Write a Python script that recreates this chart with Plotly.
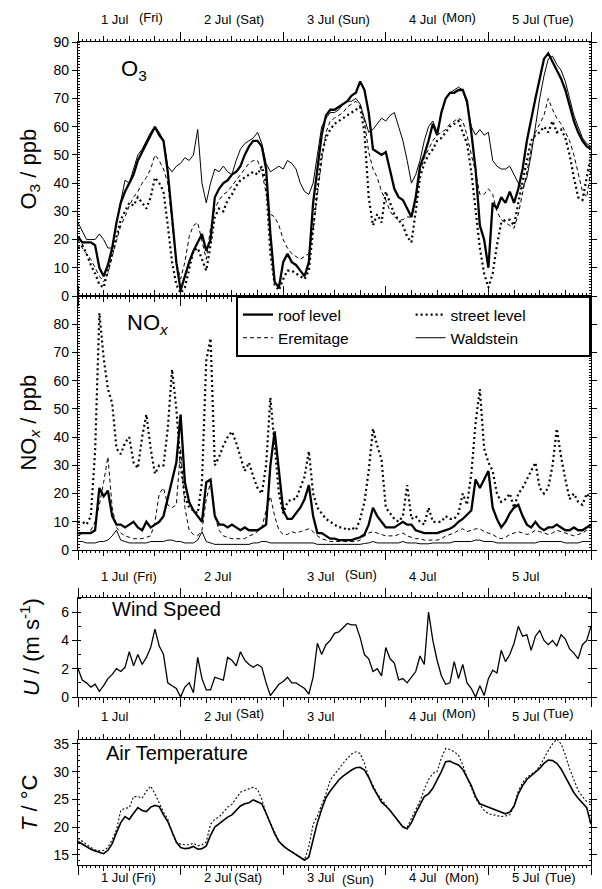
import plotly.graph_objects as go

# ---------------- data (hours since 1 Jul 00:00, hourly) ----------------
HOURS = list(range(121))
DAY_LABELS = ["1 Jul", "2 Jul", "3 Jul", "4 Jul", "5 Jul"]

O3_ROOF = [21, 19, 19, 19, 18, 10, 7, 11, 17, 26, 33, 37,
           40, 43, 48, 51, 54, 57, 60, 57, 55, 44, 28, 12,
           2, 7, 12, 16, 19, 22, 16, 20, 35, 38, 40, 41,
           43, 44, 46, 50, 53, 55, 55, 53, 45, 22, 5, 3,
           12, 15, 12, 11, 9, 7, 12, 33, 45, 57, 64, 66,
           66, 67, 68, 69, 71, 72, 76, 73, 65, 52, 51, 50,
           51, 45, 38, 35, 34, 31, 28, 35, 46, 50, 55, 61,
           57, 65, 70, 72, 72, 73, 73, 69, 58, 45, 25, 20,
           10, 33, 31, 35, 33, 37, 33, 38, 45, 55, 63, 70,
           77, 84, 86, 83, 80, 77, 73, 67, 62, 58, 55, 53,
           52]
O3_STREET = [17, 18, 15, 11, 8, 4, 3, 9, 15, 21, 27, 30,
             33, 32, 35, 33, 31, 35, 42, 40, 37, 25, 12, 4,
             1, 3, 9, 16, 17, 13, 9, 18, 28, 31, 30, 34,
             36, 39, 41, 42, 43, 44, 43, 46, 40, 15, 4, 2,
             6, 9, 9, 8, 7, 6, 9, 24, 38, 50, 56, 59,
             61, 62, 63, 64, 65, 66, 67, 58, 35, 25, 29, 26,
             37, 33, 29, 27, 25, 21, 19, 30, 42, 47, 50, 52,
             55, 56, 58, 60, 61, 62, 58, 54, 44, 30, 17, 8,
             3, 8, 18, 26, 27, 27, 25, 33, 41, 48, 55, 57,
             58, 60, 58, 62, 58, 59, 56, 50, 42, 35, 34, 42,
             50]
O3_EREMITAGE = [20, 17, 15, 13, 10, 7, 5, 8, 14, 20, 25, 28,
                32, 35, 37, 40, 42, 45, 50, 48, 45, 40, 25, 12,
                6, 12, 21, 25, 26, 19, 13, 24, 31, 34, 36, 37,
                39, 41, 43, 45, 47, 48, 48, 44, 36, 29, 28, 25,
                20, 17, 15, 14, 13, 14, 15, 24, 37, 48, 58, 62,
                63, 64, 65, 67, 68, 69, 67, 62, 51, 45, 42, 37,
                34, 30, 28, 27, 27, 28, 28, 34, 44, 49, 52, 55,
                57, 58, 59, 61, 62, 63, 62, 57, 50, 44, 36, 36,
                38, 36, 30, 27, 26, 25, 24, 29, 36, 44, 52, 58,
                61, 64, 70, 66, 63, 61, 58, 55, 50, 44, 37, 35,
                45]
O3_WALDSTEIN = [26, 23, 20, 20, 20, 22, 20, 17, 17, 26, 34, 41,
                40, 45, 50, 52, 55, 58, 60, 58, 55, 46, 44, 46,
                47, 49, 48, 50, 59, 40, 33, 40, 45, 44, 46, 44,
                43, 48, 52, 54, 55, 56, 58, 54, 47, 44, 45, 46,
                45, 48, 47, 45, 40, 37, 36, 40, 50, 60, 63, 65,
                65, 66, 68, 69, 69, 70, 68, 63, 58, 59, 61, 63,
                62, 64, 65, 60, 55, 48, 40, 43, 48, 55, 60, 62,
                58, 65, 70, 72, 73, 74, 73, 68, 60, 57, 59, 57,
                58, 48, 46, 45, 45, 46, 43, 40, 38, 42, 50, 60,
                70, 78, 84, 85, 82, 80, 76, 70, 64, 60, 56, 54,
                53]

NOX_ROOF = [6, 6, 6, 6, 7, 22, 19, 21, 12, 9, 9, 8,
            9, 10, 8, 7, 10, 8, 9, 10, 12, 18, 24, 31,
            48, 24, 17, 14, 12, 10, 24, 25, 12, 9, 9, 8,
            9, 8, 7, 8, 7, 7, 7, 8, 9, 30, 42, 28,
            14, 11, 11, 13, 15, 18, 23, 12, 6, 6, 5, 4,
            4, 3.5, 3.5, 3.5, 3.5, 4, 4.5, 5.5, 9, 15, 12, 10,
            8, 8, 8, 9, 10, 9, 9, 7, 6.5, 6, 6, 6,
            6, 6.5, 7, 7.5, 8.5, 10, 11, 12.5, 14, 25, 22, 25,
            28, 15, 11, 8, 10, 13, 15, 16, 12, 9, 8, 10,
            8, 7, 8, 8, 9, 8, 7, 7, 8, 7, 7, 8,
            9]
NOX_STREET = [10, 10, 9, 12, 35, 84, 68, 57, 52, 36, 34, 38,
              40, 31, 29, 40, 48, 36, 27, 30, 30, 43, 64, 50,
              30, 19, 15, 14, 13, 24, 67, 75, 30, 33, 37, 40,
              42, 38, 33, 28, 31, 26, 22, 20, 30, 54, 37, 20,
              13, 17, 18, 18, 22, 26, 35, 20, 15, 13, 11, 10,
              9, 8, 8, 7, 8, 7, 11, 17, 28, 43, 37, 32,
              15, 13, 11, 10, 12, 23, 11, 12, 10, 9, 15, 10,
              10, 10, 12, 11, 11, 13, 20, 16, 27, 45, 57, 36,
              31, 28, 20, 17, 18, 20, 15, 20, 22, 25, 28, 31,
              22, 20, 22, 30, 43, 33, 25, 18, 20, 17, 16, 20,
              18]
NOX_EREMITAGE = [5, 6, 6, 7, 10, 16, 24, 33, 15, 8, 6, 5,
                 4.5, 4, 4, 4, 4.5, 5, 10, 20, 22, 16, 15, 16,
                 36, 15, 7, 5.5, 5, 7, 18, 24, 12, 7, 5, 4.5,
                 4, 4, 4, 4, 5, 5.5, 6.5, 8, 14, 19, 12, 7,
                 5.5, 5.5, 6.5, 6, 6.5, 7, 7.5, 6.5, 5, 4, 3.5, 3,
                 3, 3, 3, 3, 3, 3, 3.5, 5, 6, 6.5, 6, 5.5,
                 5, 5, 5, 5.5, 6, 5, 4.5, 4, 4, 3.5, 3.5, 3.5,
                 3.5, 4, 5, 5.5, 6, 7, 7.5, 6.5, 7, 7.5, 7.5, 6.5,
                 6, 5.5, 4.5, 4, 4.5, 5.5, 6, 6.5, 6, 5.5, 6, 7,
                 6.5, 6, 5.5, 6, 7, 6.5, 6, 5.5, 5, 5.5, 6, 7,
                 8]
NOX_WALDSTEIN = [3, 3, 2.5, 2.5, 2.5, 3, 3, 3.5, 5, 7, 3.5, 3,
                 2.5, 2.5, 2.5, 2.5, 2.5, 3, 3, 3, 3, 3.5, 3.5, 3,
                 3, 2.5, 2.5, 2.5, 3.5, 6.5, 3, 2.5, 2, 2, 2, 2,
                 1.8, 1.8, 2, 2, 2, 2.5, 2.5, 3, 3, 2.5, 2.5, 2.5,
                 2.5, 2.5, 2.5, 2.5, 2.5, 2.5, 2.5, 2.5, 2, 2, 2, 1.8,
                 1.8, 1.8, 1.8, 2, 2, 2, 2, 2.3, 2.5, 3, 2.5, 2.5,
                 2.5, 2.5, 2.5, 2.5, 3, 2.5, 2.5, 2.5, 2.2, 2.2, 2.2, 2.5,
                 2.5, 2.5, 2.5, 2.5, 3, 3, 3, 3, 3, 3.5, 3.5, 3,
                 3, 3, 2.5, 2.5, 2.5, 2.5, 2.5, 2.5, 2.5, 2.5, 2.5, 2.5,
                 3, 3, 3, 3, 3, 3, 2.5, 2.5, 2.5, 2.5, 3, 3,
                 3]

WIND = [2.0, 1.2, 1.0, 0.7, 0.9, 0.4, 0.8, 1.3, 1.6, 2.0, 1.8, 2.1,
        3.2, 2.2, 3.0, 2.3, 2.8, 3.5, 4.8, 3.6, 3.0, 1.0, 0.8, 0.6,
        0.0, 0.7, 1.0, 0.3, 2.8, 1.3, 0.5, 0.5, 1.4, 1.3, 1.2, 2.8,
        2.6, 2.2, 3.2, 2.6, 2.3, 2.1, 2.3, 2.1, 1.0, 0.1, 0.5, 0.9,
        1.1, 1.4, 1.0, 1.0, 0.8, 0.6, 0.2, 1.4, 3.8, 3.0, 3.7, 4.0,
        4.5, 4.6, 4.9, 5.2, 5.1, 5.1, 4.2, 3.0, 2.7, 1.8, 2.0, 1.5,
        3.5, 2.7, 2.4, 1.2, 1.3, 1.0, 1.4, 1.8, 2.9, 2.3, 6.0, 4.0,
        2.6, 1.5, 0.9, 1.0, 2.5, 1.3, 2.3, 1.0, 0.6, 0.0, 0.8, 0.1,
        1.3, 1.9, 1.7, 3.3, 2.5, 3.0, 3.8, 5.0, 4.3, 4.4, 3.3, 4.3,
        4.7, 4.0, 3.7, 4.0, 3.6, 4.4, 4.1, 3.4, 3.1, 2.7, 3.7, 4.0,
        5.0]

T_ROOF = [17.4, 16.9, 16.5, 16.0, 15.7, 15.5, 15.2, 15.8, 17.0, 19.0, 20.8, 21.9,
          21.4, 22.5, 23.5, 23.0, 22.8, 23.6, 23.9, 23.7, 22.2, 21.0, 19.2, 17.3,
          16.3, 16.1, 16.2, 16.5, 16.0, 16.1, 16.6, 18.5, 20.0, 20.6, 21.2, 21.8,
          22.2, 23.0, 23.8, 24.2, 24.4, 24.9, 24.6, 24.2, 22.5, 20.5, 18.8, 17.4,
          16.6, 16.0, 15.5, 15.0, 14.6, 14.0, 14.6, 18.0, 20.8, 23.2, 25.3, 26.5,
          27.5, 28.5, 29.2, 29.8, 30.3, 30.7, 30.8, 30.3, 29.0, 27.2, 25.8, 24.5,
          23.8, 23.0, 22.0, 21.0, 20.0, 19.7, 20.8, 22.5, 24.0, 25.5, 26.0, 27.0,
          28.5, 30.0, 31.8, 31.9, 31.5, 31.2, 30.4, 29.0, 27.5, 25.5, 24.2, 23.9,
          23.6, 23.2, 22.9, 22.6, 22.4, 22.7, 23.8, 26.0, 27.5, 28.6, 29.3, 29.9,
          30.6, 31.5, 32.1, 32.0, 31.5, 30.5, 29.0, 27.5, 26.2, 25.2, 24.4, 23.5,
          20.5]
T_STREET = [18.0, 17.4, 16.8, 16.3, 15.9, 15.7, 15.8, 16.3, 17.7, 19.5, 23.0, 23.4,
            23.5, 25.5, 25.5, 25.2, 26.5, 27.4, 26.0, 24.2, 22.7, 21.4, 19.0, 17.2,
            16.9, 16.8, 16.8, 17.1, 16.6, 16.8, 17.3, 20.5, 21.4, 21.8, 22.8, 23.6,
            24.1, 25.3, 26.3, 26.6, 26.9, 27.2, 26.8, 25.0, 22.5, 20.8, 18.8, 17.4,
            16.7, 16.0, 15.6, 15.1, 14.7, 14.1, 16.5, 20.5, 22.0, 24.0, 26.0, 28.5,
            29.5, 30.7, 31.5, 32.4, 33.2, 33.6, 33.3, 31.5, 29.0, 27.5, 26.0, 25.0,
            24.0, 23.0, 22.0, 21.0, 20.0, 20.0, 21.5, 23.2, 24.7, 26.8, 28.6, 29.7,
            30.0, 32.5, 34.2, 34.0, 33.6, 33.0, 31.2, 29.0, 27.0, 25.2, 24.0, 23.0,
            22.4, 22.2, 22.0, 21.9, 22.0, 22.2, 23.8, 26.5, 28.0, 29.0, 29.5, 30.0,
            31.0, 32.5, 33.8, 35.0, 35.9, 35.0, 33.0, 30.5, 28.5, 26.6, 25.5, 24.6,
            24.5]

# ---------------- layout geometry ----------------
FONT = "Liberation Sans, Arial, Helvetica, sans-serif"
W, H = 602, 889
ML, MR, MT, MB = 78, 5, 42, 24
PH = H - MT - MB
PW = W - ML - MR


def yp(px):
    return 1 - (px - MT) / PH


def xp(px):
    return (px - ML) / PW


DOM_O3 = [yp(296), 1.0]
DOM_NOX = [yp(550), yp(296)]
DOM_U = [yp(697), yp(598)]
DOM_T = [0.0, yp(740)]

fig = go.Figure()

STY = {
    "roof level": dict(color="black", width=2.3),
    "street level": dict(color="black", width=2.2, dash="2px,3px"),
    "Eremitage": dict(color="black", width=1, dash="4px,3px"),
    "Waldstein": dict(color="black", width=1),
}
RANK = {"roof level": 1, "street level": 2, "Eremitage": 3, "Waldstein": 4}

o3 = {"Waldstein": O3_WALDSTEIN, "Eremitage": O3_EREMITAGE,
      "street level": O3_STREET, "roof level": O3_ROOF}
nox = {"Waldstein": NOX_WALDSTEIN, "Eremitage": NOX_EREMITAGE,
       "street level": NOX_STREET, "roof level": NOX_ROOF}

for name, vals in o3.items():
    fig.add_trace(go.Scatter(x=HOURS, y=vals, mode="lines", name=name,
                             line=STY[name], legendrank=RANK[name],
                             xaxis="x", yaxis="y", hoverinfo="skip"))
for name, vals in nox.items():
    fig.add_trace(go.Scatter(x=HOURS, y=vals, mode="lines", name=name,
                             line=STY[name], showlegend=False,
                             xaxis="x2", yaxis="y2", hoverinfo="skip"))

fig.add_trace(go.Scatter(x=HOURS, y=WIND, mode="lines", showlegend=False,
                         line=dict(color="black", width=1.3),
                         xaxis="x3", yaxis="y3", hoverinfo="skip"))
fig.add_trace(go.Scatter(x=HOURS, y=T_STREET, mode="lines", showlegend=False,
                         line=dict(color="black", width=1.1, dash="2px,2px"),
                         xaxis="x4", yaxis="y4", hoverinfo="skip"))
fig.add_trace(go.Scatter(x=HOURS, y=T_ROOF, mode="lines", showlegend=False,
                         line=dict(color="black", width=1.6),
                         xaxis="x4", yaxis="y4", hoverinfo="skip"))

DAYS = list(range(0, 121, 24))
SIXH = list(range(0, 121, 6))

# empty traces so the day-tick overlay axes get drawn
for k, ya in zip((5, 6, 7, 8), ("y", "y2", "y3", "y4")):
    fig.add_trace(go.Scatter(x=[], y=[], mode="lines", showlegend=False,
                             xaxis="x%d" % k, yaxis=ya, hoverinfo="skip"))


def xaxis(anchor, match=None):
    d = dict(range=[0, 120], anchor=anchor, showline=True, linecolor="black",
             linewidth=1.4, mirror="ticks", ticks="outside", tickvals=SIXH,
             ticklen=4.5, tickwidth=1.1, tickcolor="black", showticklabels=False,
             showgrid=False, zeroline=False,
             minor=dict(tick0=0, dtick=1, ticks="outside", ticklen=2,
                        tickwidth=0.8, tickcolor="black", showgrid=False))
    if match:
        d["matches"] = match
    return d


def dayaxis(over, anchor):
    return dict(range=[0, 120], overlaying=over, anchor=anchor, showline=False,
                mirror="ticks", ticks="outside", tickvals=DAYS, ticklen=9,
                tickwidth=1.3, tickcolor="black", showticklabels=False,
                showgrid=False, zeroline=False)


def yaxis(domain, rng, tickvals, mdt, mlen=2):
    return dict(domain=domain, range=rng, showline=True, linecolor="black",
                linewidth=1.4, mirror="ticks", ticks="outside", tickvals=tickvals,
                ticklen=5, tickwidth=1.2, tickcolor="black", showgrid=False,
                zeroline=False, tickfont=dict(size=14, color="black", family=FONT),
                minor=dict(tick0=0, dtick=mdt, ticks="inside", ticklen=mlen,
                           tickwidth=1, tickcolor="black", showgrid=False))


annotations = []

# panel labels
annotations += [
    dict(x=9.5, y=80, xref="x", yref="y", text="O<sub>3</sub>", showarrow=False,
         xanchor="left", yanchor="middle", font=dict(size=22)),
    dict(x=11.0, y=80, xref="x2", yref="y2", text="NO<sub><i>x</i></sub>",
         showarrow=False, xanchor="left", yanchor="middle", font=dict(size=22)),
    dict(x=7.5, y=6.2, xref="x3", yref="y3", text="Wind Speed", showarrow=False,
         xanchor="left", yanchor="middle", font=dict(size=20)),
    dict(x=6.0, y=33.4, xref="x4", yref="y4", text="Air Temperature",
         showarrow=False, xanchor="left", yanchor="middle", font=dict(size=20)),
]

# y-axis titles
YT_X = xp(29)
for dom, txt in [(DOM_O3, "O<sub>3</sub> / ppb"),
                 (DOM_NOX, "NO<sub><i>x</i></sub> / ppb"),
                 (DOM_U, "<i>U</i> / (m s<sup>-1</sup>)"),
                 (DOM_T, "<i>T</i> / °C")]:
    annotations.append(dict(x=YT_X, y=(dom[0] + dom[1]) / 2, xref="paper", yref="paper",
                            text=txt, showarrow=False, textangle=-90,
                            xanchor="center", yanchor="middle", font=dict(size=22)))

# date labels: (row y in px, weekday entries per day: (text, gap_h, yshift) or None)
ROWS = [
    (19, [("(Fri)", 8.8, 2), ("(Sat)", 7.4, 0), ("(Sun)", 7.4, 0), ("(Mon)", 7.7, 2), ("(Tue)", 7.4, 0)]),
    (576, [("(Fri)", 7.4, 0), None, ("(Sun)", 9.0, 2), None, None]),
    (716, [None, ("(Sat)", 7.4, 3), None, ("(Mon)", 7.7, 3), ("(Tue)", 7.4, 3)]),
    (877, [("(Fri)", 7.1, 0), ("(Sat)", 7.1, 0), ("(Sun)", 8.2, -2), ("(Mon)", 8.4, 0), ("(Tue)", 7.8, 0)]),
]
for ypx, wk in ROWS:
    for i, lab in enumerate(DAY_LABELS):
        x0 = 24 * i + 5.0
        annotations.append(dict(x=x0, y=yp(ypx), xref="x", yref="paper", text=lab,
                                showarrow=False, xanchor="left", yanchor="middle",
                                font=dict(size=13)))
        if wk[i] is not None:
            t, gap, ys = wk[i]
            annotations.append(dict(x=x0 + gap, y=yp(ypx), xref="x", yref="paper",
                                    text=t, showarrow=False, xanchor="left",
                                    yanchor="middle", yshift=ys, font=dict(size=13)))

fig.update_layout(
    width=W, height=H,
    margin=dict(l=ML, r=MR, t=MT, b=MB, pad=0),
    paper_bgcolor="white", plot_bgcolor="white",
    font=dict(family=FONT, color="black", size=13),
    xaxis=xaxis("y"),
    xaxis2=xaxis("y2", "x"),
    xaxis3=xaxis("y3", "x"),
    xaxis4=xaxis("y4", "x"),
    xaxis5=dayaxis("x", "y"),
    xaxis6=dayaxis("x2", "y2"),
    xaxis7=dayaxis("x3", "y3"),
    xaxis8=dayaxis("x4", "y4"),
    yaxis=yaxis(DOM_O3, [0, 90], list(range(0, 91, 10)), 1),
    yaxis2=yaxis(DOM_NOX, [0, 90], list(range(0, 81, 10)), 1),
    yaxis3=yaxis(DOM_U, [0, 7], [0, 2, 4, 6], 1, 3),
    yaxis4=yaxis(DOM_T, [13.15, 35.72], [15, 20, 25, 30, 35], 1, 2),
    legend=dict(x=1.0, y=DOM_NOX[1], xanchor="right", yanchor="top",
                orientation="h", entrywidthmode="fraction", entrywidth=0.3365,
                bordercolor="black", borderwidth=2, bgcolor="white",
                font=dict(size=15.5, family=FONT, color="black"),
                tracegroupgap=0, itemwidth=30),
    annotations=annotations,
    showlegend=True,
)

fig.write_html("out.html", config={"displayModeBar": False},
               post_script="document.body.style.margin='0px';")
